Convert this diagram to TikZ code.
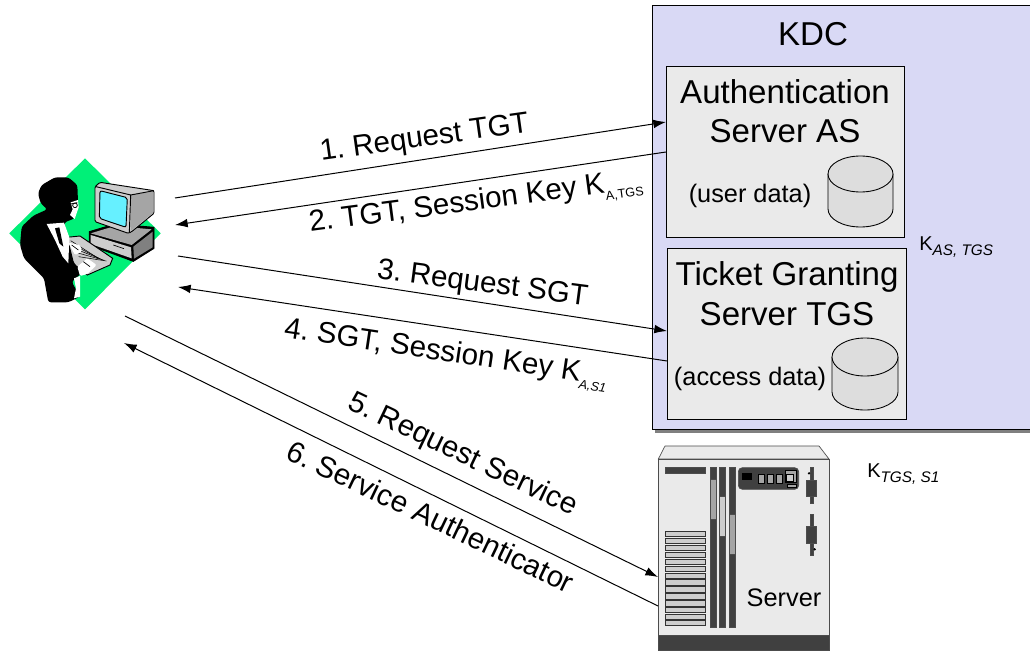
\documentclass[tikz,border=0pt]{standalone}
\usepackage{fontspec}
\setmainfont{Liberation Sans}
\usetikzlibrary{arrows.meta}
\definecolor{kdcfill}{RGB}{217,217,245}
\definecolor{srvfill}{RGB}{234,234,234}
\definecolor{cylfill}{RGB}{221,221,221}
\definecolor{dkgray}{RGB}{64,64,64}
\definecolor{midgray}{RGB}{165,165,165}
\definecolor{ltgray}{RGB}{205,205,205}
\definecolor{shadowgray}{RGB}{128,128,128}
\definecolor{diamondgreen}{RGB}{0,240,120}
\definecolor{screencyan}{RGB}{102,240,255}
\newcommand{\fsz}[1]{\fontsize{#1}{#1}\selectfont}
\newcommand{\subt}[2]{\raisebox{-0.25em}{\fontsize{#1}{#1}\selectfont\itshape #2}}
\newcommand{\subu}[2]{\raisebox{-0.25em}{\fontsize{#1}{#1}\selectfont #2}}
\frenchspacing
\tikzset{
  x=0.75pt,y=-0.75pt,
  boxline/.style={draw=black,line width=0.65pt},
  conn/.style={draw=black,line width=0.75pt},
  arrowconn/.style={conn,-{Latex[length=9.5pt,width=6.5pt]}},
  biglabel/.style={anchor=base,font=\fsz{24.8},inner sep=0pt},
  smalllabel/.style={anchor=base,font=\fsz{19},inner sep=0pt},
  msglabel/.style={anchor=base west,font=\fsz{22.2},inner sep=0pt},
  keylabel/.style={anchor=base west,font=\fsz{15},inner sep=0pt},
  part/.style={draw=black!70,line width=0.5pt},
  zoomA/.style={shift={(0,150)},x=0.25pt,y=-0.25pt},
  zoomB/.style={shift={(640,430)},x=0.25pt,y=-0.25pt},
}
\begin{document}
\begin{tikzpicture}
\clip (0,0) rectangle (1030,652);
\fill[white] (0,0) rectangle (1030,652);

% KDC
\fill[shadowgray] (655,9) rectangle (1040,433);
\draw[boxline,fill=kdcfill] (652,5) rectangle (1040,429);
\node[biglabel] (kdc) at (813,46) {KDC};

% AS
\node[boxline,fill=srvfill,minimum width=178.5pt,minimum height=128.25pt,inner sep=0pt,anchor=north west] (as) at (666,66) {};
\node[biglabel] (astext1) at (785,104) {Authentication};
\node[biglabel] (astext2) at (785,143) {Server AS};
\node[smalllabel] (asdata) at (750,203) {(user data)};
\draw[boxline,fill=cylfill] (828,174) -- (828,209) arc[start angle=180,end angle=0,x radius=32.5,y radius=18] -- (893,174);
\draw[boxline,fill=cylfill] (860.5,174) ellipse[x radius=32.5,y radius=18];

% TGS
\node[boxline,fill=srvfill,minimum width=179.25pt,minimum height=128.25pt,inner sep=0pt,anchor=north west] (tgs) at (667,248) {};
\node[biglabel] (tgstext1) at (787,285) {Ticket Granting};
\node[biglabel] (tgstext2) at (787,325) {Server TGS};
\node[smalllabel] (tgsdata) at (750,385) {(access data)};
\draw[boxline,fill=cylfill] (832,357) -- (832,392) arc[start angle=180,end angle=0,x radius=33,y radius=18] -- (898,357);
\draw[boxline,fill=cylfill] (865,357) ellipse[x radius=33,y radius=19];

% key labels
\node[keylabel] (kas) at (919,250) {K\subt{11.5}{AS, TGS}};
\node[keylabel] (ktgs) at (867,477) {K\subt{11.5}{TGS, S1}};

% Server
\begin{scope}[zoomB]
  \draw[part,fill=srvfill] (75,48) -- (537,48) -- (567,87) -- (55,87) -- cycle;
  \draw[part,fill=srvfill] (55,87) rectangle (567,615);
  \draw[part,fill=dkgray] (55,615) rectangle (567,662);
  \draw[part,fill=dkgray] (77,113) rectangle (197,130);
  \foreach \yy in {303,324,345,366,387,408,429,449,470,491,512,532,552,571}{
    \draw[part,draw=black!80,line width=0.55pt,fill=ltgray] (77,\yy) rectangle (197,\yy+16);
  }
  \draw[part,fill=dkgray] (211,113) rectangle (228,592);
  \draw[part,fill=dkgray] (239,113) rectangle (256,592);
  \draw[part,fill=dkgray] (267,113) rectangle (285,592);
  \draw[part,fill=midgray] (211,147) rectangle (228,267);
  \draw[part,fill=ltgray] (239,200) rectangle (256,320);
  \draw[part,fill=midgray] (267,252) rectangle (285,372);
  \draw[part,fill=dkgray,rounded corners=3pt] (295,113) rectangle (476,178);
  \fill[black] (305,130) rectangle (335,150);
  \foreach \xx in {356,382,408}{\draw[part,draw=black,fill=midgray] (\xx,134) rectangle (\xx+18,160);}
  \draw[part,draw=black,fill=midgray] (436,120) rectangle (470,158);
  \draw[part,draw=black,fill=ltgray] (440,134) rectangle (460,155);
  \draw[part,draw=black,fill=midgray] (443,162) rectangle (470,172);
  \draw[part,fill=dkgray] (510,113) rectangle (520,220);
  \draw[part,fill=dkgray] (500,150) rectangle (530,200);
  \fill[black] (507,130) circle[radius=4];
  \draw[part,fill=dkgray] (510,252) rectangle (520,376);
  \draw[part,fill=dkgray] (500,290) rectangle (530,340);
  \fill[black] (524,358) circle[radius=4];
\end{scope}
\node[anchor=base,font=\fsz{19},inner sep=0pt] (srvtext) at (784,606) {Server};

% User picture
\begin{scope}[zoomA]
  \fill[diamondgreen] (255,25) -- (482,250) -- (255,478) -- (28,250) -- cycle;
  % computer base
  \draw[draw=black,line width=0.7pt,fill=black] (268,245) -- (345,222) -- (462,232) -- (462,295) -- (400,334) -- (268,285) -- cycle;
  \fill[midgray] (272,250) -- (345,228) -- (455,238) -- (395,285) -- cycle;
  \fill[ltgray] (272,255) -- (393,292) -- (395,325) -- (272,282) -- cycle;
  \fill[shadowgray] (400,290) -- (458,245) -- (458,292) -- (402,326) -- cycle;
  \draw[black,line width=0.5pt] (340,285) -- (372,296);
  % monitor
  \draw[draw=black,line width=0.7pt,fill=ltgray,rounded corners=1pt] (300,97) -- (462,122) -- (462,190) -- (395,245) -- (385,250) -- (285,215) -- (285,110) -- cycle;
  \fill[midgray] (392,135) -- (460,125) -- (460,188) -- (392,243) -- cycle;
  \draw[black,line width=0.7pt] (392,135) -- (388,248);
  \draw[black,line width=0.7pt] (288,110) -- (392,135) -- (462,122);
  \draw[draw=black,line width=0.7pt,fill=screencyan,rounded corners=1.5pt] (300,122) -- (382,143) -- (378,232) -- (298,205) -- cycle;
  % keyboard
  \draw[draw=black,line width=0.7pt,fill=ltgray] (200,262) -- (240,258) -- (338,325) -- (330,345) -- (262,375) -- (215,340) -- cycle;
  \foreach \t in {0,1,2,3,4}{
    \draw[black,line width=0.4pt] (212+\t*6,272+\t*12) -- (295+\t*6,325+\t*2);
  }
  % person
  \fill[black,rounded corners=2pt] (60,285) -- (65,230) -- (100,197) -- (142,178) -- (122,160) -- (114,130) -- (125,105) -- (165,82) -- (205,82) -- (232,105) -- (234,155) -- (224,205) -- (192,218) -- (200,250) -- (222,340) -- (250,365) -- (215,395) -- (240,440) -- (205,457) -- (145,457) -- (132,385) -- (72,325) -- cycle;
  \fill[white] (212,157) -- (234,150) -- (236,172) -- (224,207) -- (210,195) -- (218,178) -- cycle;
  \draw[black,line width=0.6pt] (212,162) -- (232,158);
  \draw[black,line width=0.6pt] (225,166) circle[radius=7];
  \fill[white] (140,222) -- (192,218) -- (208,262) -- (205,340) -- (188,320) -- (165,270) -- cycle;
  \fill[black] (165,235) -- (178,232) -- (190,290) -- (178,280) -- cycle;
  \fill[white,rounded corners=1pt] (205,278) -- (240,285) -- (246,305) -- (225,315) -- cycle;
  \fill[white,rounded corners=1pt] (232,350) -- (262,325) -- (290,345) -- (262,372) -- (240,378) -- cycle;
  \fill[white] (222,385) -- (240,378) -- (240,440) -- (222,445) -- (228,415) -- cycle;
  \draw[black,line width=0.5pt] (250,335) -- (270,350);
  \draw[black,line width=0.5pt] (215,285) -- (235,300);
\end{scope}
\coordinate (user) at (95,233);

% connector ends
\coordinate (u1) at (175,198);
\coordinate (u2) at (175,225);
\coordinate (u3) at (178,256);
\coordinate (u4) at (178,287);
\coordinate (u5) at (125,316);
\coordinate (u6) at (124,343);
\coordinate (a1) at (666,122);
\coordinate (a2) at (666,152);
\coordinate (t1) at (667,331);
\coordinate (t2) at (667,361);
\coordinate (s1) at (658,577);
\coordinate (s2) at (658,606);

\draw[arrowconn] (u1) -- (a1);
\draw[arrowconn] (a2) -- (u2);
\draw[arrowconn] (u3) -- (t1);
\draw[arrowconn] (t2) -- (u4);
\draw[arrowconn] (u5) -- (s1);
\draw[arrowconn] (s2) -- (u6);

% message labels
\node[msglabel,rotate=8] (m1) at (321,161) {1. Request TGT};
\node[msglabel,rotate=7.5] (m2) at (310,232) {2. TGT, Session Key K\subu{9.5}{A,TGS}};
\node[msglabel,rotate=-7.5] (m3) at (376,278) {3. Request SGT};
\node[msglabel,rotate=-8.5] (m4) at (283,337) {4. SGT, Session Key K\subt{9.5}{A,S1}};
\node[msglabel,rotate=-25.5] (m5) at (346,408) {5. Request Service};
\node[msglabel,rotate=-25.5] (m6) at (284,458) {6. Service Authenticator};
\end{tikzpicture}
\end{document}
